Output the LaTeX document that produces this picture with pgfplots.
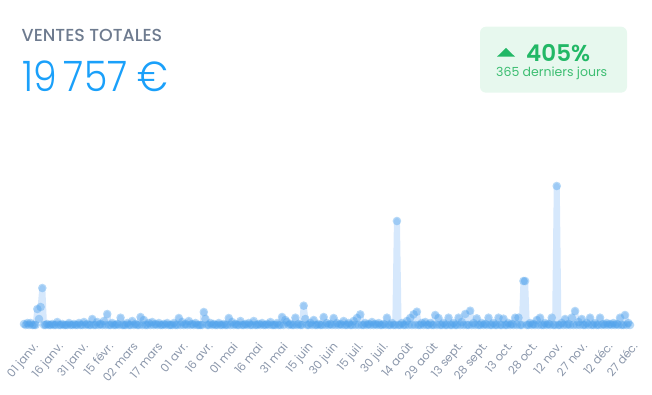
\documentclass[border=0pt]{standalone}
\usepackage{pgfplots}
\pgfplotsset{compat=1.18}
\usepackage{pgfplotstable}
\usepackage{fontspec}
\setmainfont{Poppins}
\IfFontExistsTF{Poppins Light}{\newfontfamily\numfont{Poppins Light}[FakeStretch=0.9]}{\newfontfamily\numfont{Poppins}[FakeStretch=0.9]}
\IfFontExistsTF{Poppins Medium}{\newfontfamily\medfont{Poppins Medium}}{\newfontfamily\medfont{Poppins}}
\IfFontExistsTF{Poppins SemiBold}{\newfontfamily\semifont{Poppins SemiBold}}{\newfontfamily\semifont{Poppins}}
\definecolor{titlegray}{HTML}{6E7B8F}
\definecolor{numblue}{HTML}{1AA0FA}
\definecolor{badgebg}{HTML}{E7F8EE}
\definecolor{badgegreen}{HTML}{22B866}
\definecolor{badgegreen2}{HTML}{3DBE72}
\definecolor{ticklab}{HTML}{8B97AB}
\definecolor{linecol}{HTML}{D6E8FC}
\definecolor{markcol}{HTML}{4FA2EC}

\pgfplotstableread[row sep=\\, header=false]{
15\\0\\30\\0\\30\\0\\0\\0\\240\\90\\
270\\555\\0\\0\\15\\0\\0\\15\\0\\0\\
45\\0\\0\\15\\0\\0\\0\\30\\0\\0\\
15\\0\\0\\30\\0\\0\\45\\0\\15\\0\\
0\\90\\0\\0\\45\\0\\15\\0\\60\\0\\
165\\0\\0\\30\\0\\0\\15\\0\\110\\0\\
0\\0\\30\\0\\0\\60\\0\\15\\0\\0\\
120\\0\\75\\0\\0\\30\\0\\45\\0\\15\\
0\\30\\0\\0\\15\\0\\30\\0\\0\\0\\
30\\0\\0\\105\\0\\45\\0\\15\\0\\60\\
0\\15\\0\\30\\0\\0\\0\\0\\195\\90\\
0\\0\\30\\0\\15\\0\\0\\30\\0\\0\\
15\\0\\0\\105\\0\\45\\0\\15\\0\\0\\
60\\0\\0\\15\\0\\30\\0\\0\\60\\0\\
0\\15\\0\\30\\0\\0\\15\\0\\45\\0\\
0\\0\\30\\0\\0\\120\\0\\75\\45\\0\\
15\\0\\0\\110\\0\\15\\0\\0\\290\\90\\
0\\0\\30\\0\\75\\0\\0\\15\\0\\0\\
120\\0\\30\\0\\15\\0\\105\\0\\30\\0\\
15\\0\\60\\0\\0\\30\\0\\0\\60\\0\\
105\\0\\160\\0\\0\\30\\0\\15\\0\\45\\
0\\15\\0\\30\\0\\0\\15\\0\\110\\0\\
0\\30\\0\\0\\1560\\0\\0\\30\\0\\0\\
60\\0\\105\\0\\160\\0\\200\\0\\0\\30\\
0\\45\\0\\0\\30\\0\\0\\150\\0\\105\\
0\\0\\30\\0\\0\\110\\0\\0\\30\\0\\
0\\110\\0\\45\\0\\165\\0\\0\\215\\0\\
30\\0\\100\\0\\0\\30\\0\\15\\0\\110\\
0\\0\\30\\0\\0\\110\\0\\0\\95\\0\\
0\\30\\0\\15\\0\\110\\0\\110\\0\\0\\
660\\660\\0\\0\\30\\0\\15\\0\\75\\0\\
110\\0\\0\\30\\0\\15\\0\\110\\0\\0\\
2085\\0\\0\\30\\0\\90\\0\\15\\0\\110\\
0\\210\\0\\45\\0\\90\\0\\0\\30\\0\\
110\\0\\0\\30\\0\\0\\110\\0\\15\\0\\
30\\0\\15\\0\\30\\0\\15\\0\\110\\0\\
0\\150\\0\\30\\0\\
}\sales

\begin{document}
\begin{tikzpicture}[x=1pt,y=1pt]
\path[use as bounding box] (0,0) rectangle (652,394);
% header
\node[anchor=base west, inner sep=0, text=titlegray, font=\medfont\fontsize{17.4}{19}\selectfont] at (21.5,352.3) {VENTES TOTALES};
\node[anchor=base west, inner sep=0, text=numblue, font=\numfont\fontsize{42}{48}\selectfont] at (22,302.3) {19\,757 €};
% badge
\fill[badgebg, rounded corners=6pt] (480,301.3) rectangle (627,367.3);
\fill[badgegreen] (497,337.3) -- (515,337.3) -- (506,346) -- cycle;
\node[anchor=base west, inner sep=0, text=badgegreen, font=\semifont\fontsize{23}{26}\selectfont] at (526,332.3) {405\%};
\node[anchor=base west, inner sep=0, text=badgegreen2, font=\fontsize{12.5}{14}\selectfont] at (496,317.3) {365 derniers jours};
\begin{axis}[
  at={(24pt,69pt)}, anchor=south west,
  width=606pt, height=200pt, scale only axis,
  xmin=0, xmax=364, ymin=0, ymax=3000,
  clip=false,
  hide y axis,
  axis x line*=bottom,
  x axis line style={draw=none},
  major tick length=0pt,
  xtick={0,15,...,360},
  xticklabels={01 janv., 16 janv., 31 janv., 15 févr., 02 mars, 17 mars, 01 avr., 16 avr., 01 mai, 16 mai, 31 mai, 15 juin, 30 juin, 15 juil., 30 juil., 14 août, 29 août, 13 sept., 28 sept., 13 oct., 28 oct., 12 nov., 27 nov., 12 déc., 27 déc.},
  x tick label style={text=ticklab, font=\fontsize{11.5}{13}\selectfont, inner sep=0pt, xshift=8pt, yshift=-16pt, rotate=50, anchor=north east},
]
\addplot[color=linecol, line width=6pt, line join=round, no marks]
  table[x expr=\coordindex, y index=0] {\sales};
\addplot[only marks, mark=*, mark size=4.3pt,
  mark options={draw=markcol, draw opacity=0, fill=markcol, fill opacity=0.42}]
  table[x expr=\coordindex, y index=0] {\sales};
\end{axis}
\end{tikzpicture}
\end{document}
